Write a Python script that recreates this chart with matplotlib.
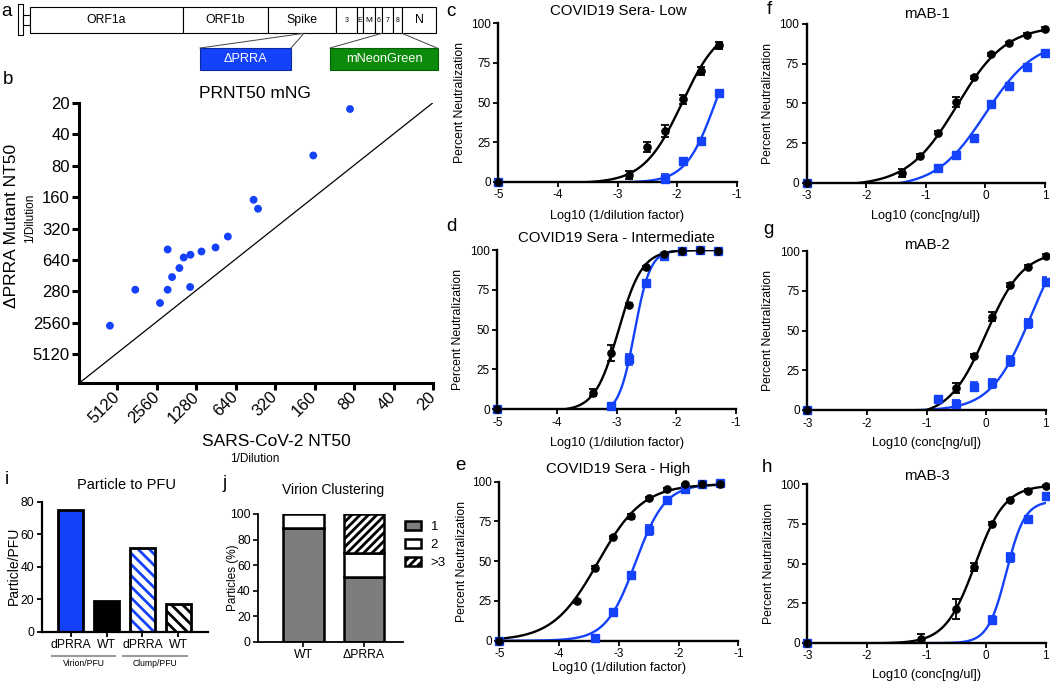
import numpy as np
import matplotlib
matplotlib.use('Agg')
import matplotlib.pyplot as plt
from matplotlib.patches import Rectangle
import matplotlib.transforms as mtransforms

plt.rcParams['font.family'] = ['Liberation Sans', 'DejaVu Sans']
plt.rcParams['axes.unicode_minus'] = False
plt.rcParams['hatch.linewidth'] = 2.0

W, H = 1050, 683
BLUE = '#1442fa'
GREEN = '#0b8a0b'
GREY = '#7d7d7d'

# ---------------- data ----------------
# a: genome schematic (schematic widths, not to scale)
genome_genes = ['ORF1a', 'ORF1b', 'Spike', '3', 'E', 'M', '6', '7', '8', 'N']
genome_widths = [153, 85, 68, 21, 6, 12, 7, 11, 9, 34]
insert_labels = ['\u0394PRRA', 'mNeonGreen']

# b: PRNT50
sars_nt50 = [86, 164, 468, 433, 736, 914, 1170, 1420, 1598, 2120, 1724, 1962,
             3745, 2120, 1428, 2424, 5846]
dprra_nt50 = [23, 64, 170, 207, 382, 486, 531, 571, 606, 508, 765, 933,
              1233, 1233, 1161, 1652, 2724]
b_ticks = [20, 40, 80, 160, 320, 640, 1280, 2560, 5120]
b_xtick_labels = ['20', '40', '80', '160', '320', '640', '1280', '2560', '5120']
b_ytick_labels = ['20', '40', '80', '160', '320', '640', '280', '2560', '5120']

# c-h: neutralization (x, WT mean, WT err, mutant x, mutant mean, mutant err)
c_x = [-5, -2.8, -2.5, -2.2, -1.9, -1.6, -1.3]
c_wt = [0, 4, 22, 32, 52, 70, 86]
c_wt_err = [0, 2.5, 3, 3.5, 3, 2.5, 2]
c_mut_x = [-5, -2.2, -1.9, -1.6, -1.3]
c_mut = [0, 2, 13, 26, 56]
c_mut_err = [0, 3, 1, 1, 1]

d_x = [-5, -3.4, -3.1, -2.8, -2.5, -2.2, -1.9, -1.6, -1.3]
d_wt = [0, 10.3, 35.4, 65.4, 89, 97.3, 99.6, 100, 99.6]
d_wt_err = [0, 2, 5, 1, 1, 1, 0.5, 0.5, 0.5]
d_mut_x = [-5, -3.1, -2.8, -2.5, -2.2, -1.9, -1.6, -1.3]
d_mut = [0, 1.9, 31.2, 79.5, 96.4, 99.6, 100, 99.6]
d_mut_err = [0, 0.5, 3.5, 1.5, 1, 0.5, 0.5, 0.5]

e_x = [-5, -3.7, -3.4, -3.1, -2.8, -2.5, -2.2, -1.9, -1.6, -1.3]
e_wt = [0, 24.9, 45.9, 65, 78.2, 89.5, 95.2, 98.3, 98.5, 98.3]
e_wt_err = [0, 1, 1, 1, 1.5, 1, 1, 0.5, 0.5, 0.5]
e_mut_x = [-5, -3.4, -3.1, -2.8, -2.5, -2.2, -1.9, -1.6, -1.3]
e_mut = [0, 1.5, 17.8, 41.3, 69.6, 88.5, 95.4, 98.3, 99]
e_mut_err = [0, 2, 1.5, 1.5, 3, 1.5, 1, 0.5, 0.5]

f_x = [-3, -1.4, -1.1, -0.8, -0.5, -0.2, 0.1, 0.4, 0.7, 1.0]
f_wt = [0, 6.3, 17, 31.5, 51, 66.4, 80.9, 87.8, 93.3, 96.8]
f_wt_err = [0, 2.5, 1, 1, 3, 1, 1, 1, 1, 1]
f_mut_x = [-3, -0.8, -0.5, -0.2, 0.1, 0.4, 0.7, 1.0]
f_mut = [0, 9, 17.4, 28, 49.4, 61, 73, 82]
f_mut_err = [0, 2, 1.5, 1.5, 1.5, 1.5, 1.5, 1.5]

g_x = [-3, -0.5, -0.2, 0.1, 0.4, 0.7, 1.0]
g_wt = [0, 14, 34.2, 58.7, 78.6, 90, 96.9]
g_wt_err = [0, 3, 1, 3, 1, 1, 1]
g_mut_x = [-3, -0.8, -0.5, -0.2, 0.1, 0.4, 0.7, 1.0]
g_mut = [0, 6.9, 3.8, 14.7, 16.8, 30.8, 54.5, 80.7]
g_mut_err = [0, 1, 2.5, 3, 3, 3, 3, 3]

h_x = [-3, -1.1, -0.5, -0.2, 0.1, 0.4, 0.7, 1.0]
h_wt = [0, 2.3, 21.3, 47.6, 75, 90, 96, 99.2]
h_wt_err = [0, 3.5, 6.4, 2.5, 1, 1, 1, 0.5]
h_mut_x = [-3, 0.1, 0.4, 0.7, 1.0]
h_mut = [0, 14.3, 53.9, 77.9, 92.6]
h_mut_err = [0, 2.5, 3, 1, 1]

# fitted 4PL curves: (bottom, top, logEC50, hill)
c_wt_fit = (-1, 100, -1.92, 1.35)
c_mut_fit = (-0.5, 100, -1.36, 1.75)
d_wt_fit = (-1.2, 100, -2.97, 2.2)
d_mut_fit = (-3, 100, -2.70, 3.3)
e_wt_fit = (0, 98.5, -3.35, 1.15)
e_mut_fit = (0, 98.5, -2.72, 1.75)
f_wt_fit = (-2, 99, -0.48, 1.05)
f_mut_fit = (-3, 90, 0.0, 1.05)
g_wt_fit = (-4, 100, 0.0, 1.4)
g_mut_fit = (-0.5, 120, 0.76, 1.28)
h_wt_fit = (-0.5, 99.5, -0.184, 1.73)
h_mut_fit = (-0.3, 89.5, 0.34, 2.8)

# i: particle to PFU
i_labels = ['dPRRA', 'WT', 'dPRRA', 'WT']
i_values = [75, 19, 51.3, 17]
i_groups = ['Virion/PFU', 'Clump/PFU']

# j: virion clustering
j_labels = ['WT', '\u0394PRRA']
j_one = [89, 50.3]
j_two = [11, 19.2]
j_three = [0, 30.5]
j_legend = ['1', '2', '>3']

# ---------------- helpers ----------------
fig = plt.figure(figsize=(W / 100, H / 100), dpi=100)
fig.patch.set_facecolor('white')


def px_axes(l, t, r, b):
    return fig.add_axes([l / W, 1 - b / H, (r - l) / W, (b - t) / H])


def ftext(x, y, s, **kw):
    kw.setdefault('ha', 'center')
    kw.setdefault('va', 'center')
    return fig.text(x / W, 1 - y / H, s, **kw)


def logistic(x, p):
    b, t, c, h = p
    return b + (t - b) / (1 + 10 ** ((c - x) * h))


# ---------------- panel a ----------------
ax_a = fig.add_axes([0, 1 - 80 / H, 450 / W, 80 / H])
ax_a.set_xlim(0, 450)
ax_a.set_ylim(80, 0)
ax_a.axis('off')
ax_a.add_patch(Rectangle((18.3, 4.3), 4.4, 30.4, fc='white', ec='black', lw=0.8))
ax_a.add_patch(Rectangle((22.7, 15), 7.3, 10, fc='white', ec='black', lw=0.8))
starts = np.concatenate([[30], 30 + np.cumsum(genome_widths)[:-1]])
gy0, gy1 = 7, 33.3
for name, x0, w in zip(genome_genes, starts, genome_widths):
    ax_a.add_patch(Rectangle((x0, gy0), w, gy1 - gy0, fc='white', ec='black', lw=0.8))
    fs = 8.8 if (w > 25 or name == 'N') else (6 if name in ('M',) else 5)
    ax_a.text(x0 + w / 2, (gy0 + gy1) / 2, name, ha='center', va='center', fontsize=fs)
sp = genome_genes.index('Spike')
furin_x = starts[sp] + 0.53 * genome_widths[sp]
i7 = genome_genes.index('7')
i8 = genome_genes.index('8')
boxes = [(200, 291, BLUE, '#0a2a9a'), (330, 438, GREEN, '#056005')]
for (bx0, bx1, fc, ec), lab in zip(boxes, insert_labels):
    ax_a.add_patch(Rectangle((bx0, 48), bx1 - bx0, 22, fc=fc, ec=ec, lw=0.8))
    ax_a.text((bx0 + bx1) / 2, 59, lab, ha='center', va='center', fontsize=9.2, color='white')
lc = '#444444'
ax_a.plot([furin_x, 200], [gy1, 48], color=lc, lw=0.7)
ax_a.plot([furin_x, 291], [gy1, 48], color=lc, lw=0.7)
ax_a.plot([starts[i7], 330], [gy1, 48], color=lc, lw=0.7)
ax_a.plot([starts[i8] + genome_widths[i8], 437], [gy1, 48], color=lc, lw=0.7)

# ---------------- panel b ----------------
ax_b = px_axes(79, 102.7, 433, 383.3)
ax_b.set_xscale('log', base=2)
ax_b.set_yscale('log', base=2)
ax_b.set_xlim(10070, 20)
ax_b.set_ylim(9700, 20)
ax_b.plot([10070, 20], [9700, 20], color='black', lw=0.9, zorder=1)
ax_b.scatter(sars_nt50, dprra_nt50, s=32, color=BLUE, edgecolors='none', zorder=3)
ax_b.set_xticks(b_ticks)
ax_b.set_xticklabels(b_xtick_labels, rotation=45, ha='right', va='center',
                     rotation_mode='anchor', fontsize=12)
ax_b.set_yticks(b_ticks)
ax_b.set_yticklabels(b_ytick_labels, fontsize=12)
ax_b.minorticks_off()
for s in ['top', 'right']:
    ax_b.spines[s].set_visible(False)
for s in ['left', 'bottom']:
    ax_b.spines[s].set_linewidth(2.2)
ax_b.tick_params(axis='both', which='major', length=5, width=2.2, pad=1.5)
ax_b.tick_params(axis='x', pad=3)
ftext(255, 93, 'PRNT50 mNG', fontsize=12.5)
ftext(12, 226, '\u0394PRRA Mutant NT50', fontsize=12.5, rotation=90)
ftext(30, 218, '1/Dilution', fontsize=8.5, rotation=90)
ftext(276, 442, 'SARS-CoV-2 NT50', fontsize=12.5)
ftext(255, 459, '1/Dilution', fontsize=8.5)

# ---------------- panels c-h ----------------
panels = [
    dict(rect=(498.3, 23.3, 736.7, 181.7), xt=[-5, -4, -3, -2, -1],
         wt=(c_x, c_wt, c_wt_err, c_wt_fit), mut=(c_mut_x, c_mut, c_mut_err, c_mut_fit),
         title='COVID19 Sera- Low', tpos=(618, 11), xlab='Log10 (1/dilution factor)',
         xl_off=34, ylx=460),
    dict(rect=(497.3, 250, 736, 409), xt=[-5, -4, -3, -2, -1],
         wt=(d_x, d_wt, d_wt_err, d_wt_fit), mut=(d_mut_x, d_mut, d_mut_err, d_mut_fit),
         title='COVID19 Sera - Intermediate', tpos=(616.7, 237.7), xlab='Log10 (1/dilution factor)',
         xl_off=34, ylx=458),
    dict(rect=(499.3, 481.7, 738.3, 640.7), xt=[-5, -4, -3, -2, -1],
         wt=(e_x, e_wt, e_wt_err, e_wt_fit), mut=(e_mut_x, e_mut, e_mut_err, e_mut_fit),
         title='COVID19 Sera - High', tpos=(618.3, 469.3), xlab='Log10 (1/dilution factor)',
         xl_off=27, ylx=461.7),
    dict(rect=(806.7, 24, 1045, 182.7), xt=[-3, -2, -1, 0, 1],
         wt=(f_x, f_wt, f_wt_err, f_wt_fit), mut=(f_mut_x, f_mut, f_mut_err, f_mut_fit),
         title='mAB-1', tpos=(926.7, 14), xlab='Log10 (conc[ng/ul])',
         xl_off=33, ylx=767.7),
    dict(rect=(807.3, 251, 1045.7, 410), xt=[-3, -2, -1, 0, 1],
         wt=(g_x, g_wt, g_wt_err, g_wt_fit), mut=(g_mut_x, g_mut, g_mut_err, g_mut_fit),
         title='mAB-2', tpos=(926.7, 245), xlab='Log10 (conc[ng/ul])',
         xl_off=33, ylx=768.3),
    dict(rect=(807.3, 484.3, 1045.7, 642.7), xt=[-3, -2, -1, 0, 1],
         wt=(h_x, h_wt, h_wt_err, h_wt_fit), mut=(h_mut_x, h_mut, h_mut_err, h_mut_fit),
         title='mAB-3', tpos=(926.7, 476), xlab='Log10 (conc[ng/ul])',
         xl_off=32, ylx=769),
]

for p in panels:
    l, t, r, b = p['rect']
    ax = px_axes(l, t, r, b)
    ax.set_xlim(p['xt'][0], p['xt'][-1])
    ax.set_ylim(0, 100)
    for (xs, ys, es, fit), col, mk in [(p['mut'], BLUE, 's'), (p['wt'], 'black', 'o')]:
        xx = np.linspace(min(xs), max(xs), 400)
        ax.plot(xx, logistic(xx, fit), color=col, lw=1.7, zorder=2)
        xs_a, ys_a, es_a = np.array(xs), np.array(ys), np.array(es)
        m = es_a > 0
        ax.errorbar(xs_a[m], ys_a[m], yerr=es_a[m], fmt='none', ecolor=col,
                    elinewidth=1.3, capsize=3, capthick=1.3, zorder=3)
        ax.plot(xs, ys, mk, color=col, ms=5.2, clip_on=False, zorder=4)
    ax.set_xticks(p['xt'])
    ax.set_yticks([0, 25, 50, 75, 100])
    for s in ['top', 'right']:
        ax.spines[s].set_visible(False)
    for s in ['left', 'bottom']:
        ax.spines[s].set_linewidth(1.7)
    ax.tick_params(axis='both', length=3.5, width=1.3, labelsize=8.5, pad=2)
    ftext(p['tpos'][0], p['tpos'][1], p['title'], fontsize=10.8)
    ftext((l + r) / 2, b + p['xl_off'], p['xlab'], fontsize=9.2)
    ftext(p['ylx'], (t + b) / 2, 'Percent Neutralization', fontsize=8.8, rotation=90)

# ---------------- panel i ----------------
ax_i = px_axes(41.7, 501.7, 208, 631.7)
xi = np.arange(len(i_values))
ax_i.set_xlim(-0.81, 3.83)
ax_i.set_ylim(0, 80)
bw = 0.70
ax_i.bar(xi[0], i_values[0], bw, color=BLUE, edgecolor='black', lw=2, zorder=2)
ax_i.bar(xi[1], i_values[1], bw, color='black', edgecolor='black', lw=2, zorder=2)
ax_i.bar(xi[2], i_values[2], bw, color='white', edgecolor=BLUE, hatch='\\\\\\', lw=0, zorder=2)
ax_i.bar(xi[2], i_values[2], bw, fill=False, edgecolor='black', lw=2, zorder=3)
ax_i.bar(xi[3], i_values[3], bw, color='white', edgecolor='black', hatch='\\\\\\', lw=2, zorder=2)
ax_i.set_xticks(xi)
ax_i.set_xticklabels(i_labels, fontsize=8.8)
ax_i.set_yticks([0, 20, 40, 60, 80])
for s in ['top', 'right']:
    ax_i.spines[s].set_visible(False)
for s in ['left', 'bottom']:
    ax_i.spines[s].set_linewidth(1.6)
ax_i.tick_params(axis='both', length=3.5, width=1.3, labelsize=8.8, pad=2)
trans = mtransforms.blended_transform_factory(ax_i.transData, ax_i.transAxes)
for k, grp in enumerate(i_groups):
    x0, x1 = xi[2 * k] - 0.53, xi[2 * k + 1] + 0.24
    ax_i.plot([x0, x1], [-0.185, -0.185], color='#9a9a9a', lw=1.5,
              transform=trans, clip_on=False)
    ax_i.text((x0 + x1) / 2, -0.243, grp, transform=trans, ha='center', va='center',
              fontsize=6.2)
ftext(126.7, 485, 'Particle to PFU', fontsize=10.5)
ftext(14, 566, 'Particle/PFU', fontsize=10, rotation=90)

# ---------------- panel j ----------------
ax_j = px_axes(258.3, 514, 403, 641.7)
xj = np.arange(len(j_labels))
ax_j.set_xlim(-0.744, 1.648)
ax_j.set_ylim(0, 100)
jw = 0.67
one = np.array(j_one)
two = np.array(j_two)
three = np.array(j_three)
b1 = ax_j.bar(xj, one, jw, color=GREY, edgecolor='black', lw=1.8)
b2 = ax_j.bar(xj, two, jw, bottom=one, color='white', edgecolor='black', lw=1.8)
b3 = ax_j.bar(xj[1:], three[1:], jw, bottom=(one + two)[1:], color='white',
              edgecolor='black', hatch='////', lw=1.8)
ax_j.set_xticks(xj)
ax_j.set_xticklabels(j_labels, fontsize=8.8)
ax_j.set_yticks([0, 20, 40, 60, 80, 100])
for s in ['top', 'right']:
    ax_j.spines[s].set_visible(False)
for s in ['left', 'bottom']:
    ax_j.spines[s].set_linewidth(1.3)
ax_j.tick_params(axis='both', length=3.5, width=1.2, labelsize=8.8, pad=2)
ax_j.legend([b1, b2, b3], j_legend, loc='upper left',
            bbox_to_anchor=(405 / W, 1 - 521 / H), bbox_transform=fig.transFigure,
            frameon=False, fontsize=9.5, handlelength=1.25, handleheight=0.72,
            handletextpad=0.7, labelspacing=0.42, borderpad=0, borderaxespad=0)
ftext(333.3, 490, 'Virion Clustering', fontsize=10)
ftext(233, 578, 'Particles (%)', fontsize=8.5, rotation=90)

# ---------------- panel letters ----------------
for lab, (x, y) in {'a': (6, 11), 'b': (8, 80), 'c': (451, 11), 'd': (451, 226),
                    'e': (460, 466), 'f': (769, 10), 'g': (768, 229), 'h': (767, 467),
                    'i': (7, 480), 'j': (225, 484)}.items():
    ftext(x, y, lab, fontsize=13.5)

fig.savefig('out.png', dpi=100, facecolor='white')
